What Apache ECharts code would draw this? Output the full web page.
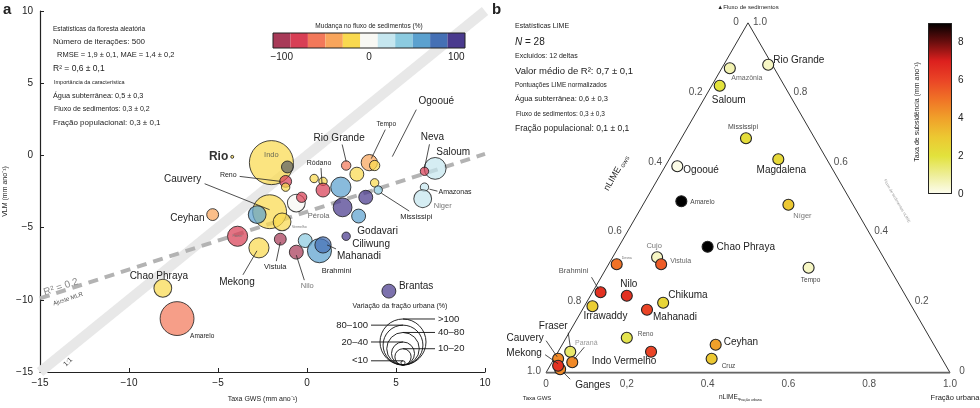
<!DOCTYPE html>
<html><head><meta charset="utf-8">
<script src="https://cdn.jsdelivr.net/npm/echarts@6.0.0/dist/echarts.min.js"></script>
<style>html,body{margin:0;padding:0;background:#fff}#c{width:980px;height:408px}</style>
</head><body><div id="c"></div>
<script>
// ================= DATA: panel a (random forest bubbles) =================
const gwsRate = [-2.0,-1.1,-1.2,-1.2,-4.2,0.4,0.9,0.9,1.9,2.2,2.8,3.5,3.8,3.8,4.0,7.2,6.6,6.6,6.5,3.3,2.0,2.9,-0.6,-0.3,-2.1,-2.8,-1.4,-5.3,-3.9,-2.7,-1.5,-0.1,-0.6,0.7,0.9,2.2,-8.1,-7.3,4.6];
const vlmRate = [-0.5,-0.8,-1.8,-2.2,-0.1,-1.6,-1.8,-2.4,-2.2,-0.7,-1.3,-0.5,-0.7,-1.9,-2.4,-0.9,-1.1,-2.2,-3.0,-2.9,-3.6,-4.2,-3.3,-2.9,-3.9,-4.1,-4.6,-4.1,-5.6,-6.4,-5.8,-5.9,-6.7,-6.6,-6.2,-5.6,-9.2,-11.3,-9.4];
const sedFluxChange = [-20,null,-80,-20,-20,-20,-20,-80,60,-60,-20,-40,-20,-20,40,20,-80,20,20,100,100,60,0,-80,-20,60,-20,-40,-80,-20,-100,40,-100,60,80,100,-20,-60,100];
const urbanChange = [110,8,8,4,0.5,4,4,11,23,5,11,15,6,4,4,27,4,4,18,11,20,11,18,6,65,18,18,8,23,23,8,11,11,33,15,4,18,65,11];
const mlrFitX = [-15, 10];
const mlrFitY = [-9.9, 0.1];
const oneToOne = [-15, 10];
const fluxTicks = [-100,-80,-60,-40,-20,0,20,40,60,80,100];
const sizeLegendLabels = ['>100','80–100','40–80','20–40','10–20','<10'];
const sizeLegendValues = [120, 90, 60, 30, 15, 1];

// ================= DATA: panel b (LIME ternary) =================
const deltaNamesB = ['Rio Grande','Amazônia','Saloum','Mississipi','Magdalena','Níger','Tempo','Chao Phraya','Ceyhan','Cruz','Ogooué','Amarelo','Cujo','Vistula','Desna','Brahmini','Nilo','Chikuma','Irrawaddy','Mahanadi','Reno','Indo Vermelho','Fraser','Paraná','Ganges','Cauvery','Mekong'];
const nlimeGws   = [0.01,0.11,0.16,0.17,0.12,0.16,0.20,0.42,0.54,0.57,0.38,0.42,0.56,0.56,0.67,0.75,0.69,0.61,0.79,0.66,0.75,0.71,0.91,0.92,0.96,0.95,0.96];
const nlimeSed   = [0.88,0.87,0.82,0.67,0.61,0.48,0.30,0.36,0.08,0.04,0.59,0.49,0.33,0.31,0.31,0.23,0.22,0.20,0.19,0.18,0.10,0.06,0.06,0.03,0.01,0.04,0.02];
const nlimeUrban = [0.11,0.02,0.02,0.16,0.27,0.36,0.50,0.22,0.38,0.39,0.03,0.09,0.11,0.13,0.02,0.02,0.09,0.19,0.02,0.16,0.15,0.23,0.03,0.05,0.03,0.01,0.02];
const subsidence = [0.5,0.7,2.0,2.2,2.4,3.0,0.5,9,4,3,0.1,9,0.5,5.5,5,6.5,6.5,2.5,2.8,6,1.8,6,1.5,4.5,4.5,4.5,6.5];
const ternTicks = [0, 0.2, 0.4, 0.6, 0.8, 1.0];
const baseTickLabels = ['0','0,2','0.4','0.6','0.8','1.0'];

// ================= STYLE / LAYOUT =================
const FONT = 'Liberation Sans, Arial, Helvetica, sans-serif';
const fluxPalette = ['#a83a58','#d83f55','#f2785a','#f8a55c','#f9d94f','#f8f8f4','#c5e6ef','#8ccbe0','#5ba1cf','#4570b5','#4a3a8e'];
const subsColors = ['#fdfdf0','#eeee98','#e2e23c','#ecc832','#f0a02a','#f07226','#ea4426','#dc201e','#6a0e0e','#000000'];
const SQ = Math.sqrt(3) / 2;
function proj(u, s) { return [u + s / 2, s * SQ]; }
function hexA(h, a) { const n = parseInt(h.slice(1), 16); return 'rgba(' + (n >> 16 & 255) + ',' + (n >> 8 & 255) + ',' + (n & 255) + ',' + a + ')'; }
function fluxColor(v) { if (v == null) return 'rgba(96,100,102,0.92)'; return hexA(fluxPalette[Math.round((v + 100) / 20)], 0.9); }
function urbanRadius(u) { return 2.1 * Math.sqrt(u); }
const minus = v => String(v).replace('-', '−');

const chart = echarts.init(document.getElementById('c'));

const bubbleData = gwsRate.map((g, i) => ({
  value: [g, vlmRate[i], sedFluxChange[i], urbanChange[i]],
  symbolSize: 2 * urbanRadius(urbanChange[i]),
  itemStyle: { color: fluxColor(sedFluxChange[i]) }
}));

const ternData = deltaNamesB.map((n, i) => {
  const p = proj(nlimeUrban[i], nlimeSed[i]);
  return { name: n, value: [p[0], p[1], subsidence[i]] };
});

const tickItems = [];
ternTicks.forEach((t, k) => {
  tickItems.push({ value: proj(t, 0), label: { formatter: baseTickLabels[k], offset: [0, 12] } });
  tickItems.push({ value: proj(0, 1 - t), label: { formatter: t === 0 ? '0' : t.toFixed(1), offset: [-12, -1] } });
  tickItems.push({ value: proj(1 - t, t), label: { formatter: t === 0 ? '0' : t.toFixed(1), offset: [12, -1] } });
});

function mainAxis(extra, margin) {
  return Object.assign({
    type: 'value', min: -15, max: 10, interval: 5,
    nameLocation: 'middle',
    nameTextStyle: { fontSize: 7, color: '#222', fontFamily: FONT },
    axisLine: { onZero: false, lineStyle: { color: '#222', width: 1.2 } },
    axisTick: { inside: true, length: 4, lineStyle: { color: '#222' } },
    splitLine: { show: false },
    axisLabel: { color: '#222', fontSize: 10, fontFamily: FONT, margin: margin, formatter: minus }
  }, extra);
}

const option = {
  animation: false,
  backgroundColor: '#fff',
  textStyle: { fontFamily: FONT },
  grid: [
    { left: 40, top: 11, width: 445, height: 362 },
    { left: 546, top: 22.8, width: 404, height: 349.9 },
    { left: 273, top: 33, width: 192, height: 15 },
    { left: 928, top: 23, width: 24, height: 171 }
  ],
  xAxis: [
    mainAxis({ gridIndex: 0, name: 'Taxa GWS (mm ano⁻¹)', nameGap: 24 }, 6),
    { gridIndex: 1, type: 'value', min: 0, max: 1, show: false },
    { gridIndex: 2, type: 'category', data: fluxTicks.map(String),
      axisLine: { show: false },
      axisTick: { inside: true, length: 4, alignWithLabel: true, interval: 0, lineStyle: { color: '#111' } },
      axisLabel: { interval: 4, fontSize: 10, color: '#222', margin: 4, fontFamily: FONT, formatter: minus } },
    { gridIndex: 3, type: 'category', data: ['s'], show: false }
  ],
  yAxis: [
    mainAxis({ gridIndex: 0, name: 'VLM (mm ano⁻¹)', nameGap: 31 }, 7),
    { gridIndex: 1, type: 'value', min: 0, max: SQ, show: false },
    { gridIndex: 2, type: 'value', min: 0, max: 1, show: false },
    { gridIndex: 3, type: 'value', min: 0, max: 9, interval: 1, position: 'right',
      axisLine: { show: false }, splitLine: { show: false },
      axisTick: { inside: true, length: 4, lineStyle: { color: '#222' } },
      axisLabel: { fontSize: 10, color: '#222', margin: 6, fontFamily: FONT,
        formatter: v => (v % 2 === 0 ? String(v) : '') } }
  ],
  visualMap: [{ type: 'continuous', show: false, seriesIndex: 6, dimension: 2, min: 0, max: 9,
    inRange: { color: subsColors } }],
  series: [
    { type: 'line', xAxisIndex: 0, yAxisIndex: 0, symbol: 'none', silent: true, z: 1,
      data: oneToOne.map(v => [v, v]), lineStyle: { color: '#e8e8e8', width: 10 } },
    { type: 'line', xAxisIndex: 0, yAxisIndex: 0, symbol: 'none', silent: true, z: 1,
      data: mlrFitX.map((x, i) => [x, mlrFitY[i]]), lineStyle: { color: '#b3b3b3', width: 4, type: [10, 7] } },
    { type: 'scatter', xAxisIndex: 0, yAxisIndex: 0, z: 3, clip: false, data: bubbleData,
      itemStyle: { borderColor: '#1a1a1a', borderWidth: 1 } },
    { type: 'line', xAxisIndex: 1, yAxisIndex: 1, symbol: 'none', silent: true,
      data: [proj(0, 0), proj(0, 1), proj(1, 0)], lineStyle: { color: '#333', width: 1 } },
    { type: 'line', xAxisIndex: 1, yAxisIndex: 1, symbol: 'none', silent: true,
      data: [proj(0, 0), proj(1, 0)], lineStyle: { color: '#666', width: 2 } },
    { type: 'scatter', xAxisIndex: 1, yAxisIndex: 1, symbolSize: 1, clip: false, silent: true,
      itemStyle: { color: 'rgba(0,0,0,0)' }, data: tickItems,
      label: { show: true, position: 'inside', fontSize: 10, color: '#222', fontFamily: FONT } },
    { type: 'scatter', xAxisIndex: 1, yAxisIndex: 1, symbolSize: 11, clip: false, z: 3, data: ternData,
      itemStyle: { borderColor: '#222', borderWidth: 1.1, opacity: 1 } },
    { type: 'bar', xAxisIndex: 2, yAxisIndex: 2, barWidth: '100%', silent: true,
      data: fluxTicks.map((v, i) => ({ value: 1, itemStyle: { color: fluxPalette[i] } })) },
    { type: 'bar', xAxisIndex: 3, yAxisIndex: 3, barWidth: '100%', silent: true,
      data: [{ value: 9, itemStyle: { borderColor: '#222', borderWidth: 1,
        color: new echarts.graphic.LinearGradient(0, 1, 0, 0,
          subsColors.map((c, i) => ({ offset: i / (subsColors.length - 1), color: c }))) } }] }
  ]
};
chart.setOption(option);

// ================= Labels & annotations =================
const labelsA = [
  { i: 0, t: 'Indo', dx: 0, dy: -8, s: 7.5, c: '#6b6b55' },
  { i: 4, t: 'Rio', dx: -4, dy: 0, a: 'right', s: 12, c: '#333', w: 'bold' },
  { i: 2, t: 'Reno', dx: -49, dy: -6, a: 'right', s: 7, l: [-46, -5, -5, 0] },
  { i: 7, t: 'Ródano', dx: -4, dy: -27, s: 7, l: [-2, -22, -1, -6] },
  { i: 9, t: 'Rio Grande', dx: -7, dy: -27, s: 10, l: [-4, -21, 0, -4] },
  { i: 11, t: 'Tempo', dx: 17, dy: -38, s: 6.5, l: [16, -33, 2, -4] },
  { i: 11, t: 'Ogooué', dx: 67, dy: -61, s: 10, l: [47, -53, 23, -6] },
  { i: 16, t: 'Neva', dx: 8, dy: -34, s: 10, l: [5, -27, 0, -3] },
  { i: 15, t: 'Saloum', dx: 18, dy: -16, s: 10 },
  { i: 17, t: 'Amazonas', dx: 14, dy: 5, a: 'left', s: 7, l: [5, 2, 13, 4] },
  { i: 18, t: 'Niger', dx: 20, dy: 7, s: 7.5, c: '#777' },
  { i: 14, t: 'Mississipi', dx: 38, dy: 27, s: 7.5, l: [31, 21, 3, 3] },
  { i: 20, t: 'Pérola', dx: -24, dy: 9, s: 7.5, c: '#666' },
  { i: 21, t: 'Godavari', dx: 19, dy: 15, s: 10 },
  { i: 35, t: 'Ciliwung', dx: 6, dy: 8, a: 'left', s: 10 },
  { i: 34, t: 'Mahanadi', dx: 14, dy: 11, a: 'left', s: 10, l: [13, 4, 4, 0] },
  { i: 33, t: 'Brahmini', dx: 17, dy: 20, s: 7.5 },
  { i: 32, t: 'Nilo', dx: 11, dy: 34, s: 7.5, c: '#777', l: [8, 28, 0, 3] },
  { i: 30, t: 'Vistula', dx: -5, dy: 28, s: 7.5, l: [-4, 22, 0, 3] },
  { i: 29, t: 'Mekong', dx: -22, dy: 34, s: 10, l: [-16, 27, -2, 3] },
  { i: 24, t: 'Cauvery', dx: -87, dy: -32, s: 10, l: [-65, -28, 0, -2] },
  { i: 27, t: 'Ceyhan', dx: -8, dy: 4, a: 'right', s: 10 },
  { i: 36, t: 'Chao Phraya', dx: -4, dy: -12, s: 10 },
  { i: 37, t: 'Amarelo', dx: 13, dy: 18, a: 'left', s: 6.5 },
  { i: 38, t: 'Brantas', dx: 10, dy: -5, a: 'left', s: 10 },
  { i: 28, t: 'Fraser', dx: 0, dy: 0, s: 3.5, c: '#777' },
  { i: 22, t: 'Vermelho', dx: 3, dy: 24, s: 3.5, c: '#777' }
];
const labelsB = [
  { n: 'Rio Grande', dx: 5, dy: -5, a: 'left', s: 10 },
  { n: 'Amazônia', dx: 17, dy: 10, s: 7, c: '#666' },
  { n: 'Saloum', dx: 9, dy: 14, s: 10 },
  { n: 'Mississipi', dx: -3, dy: -11, s: 7, c: '#444' },
  { n: 'Magdalena', dx: 3, dy: 11, s: 10 },
  { n: 'Níger', dx: 14, dy: 11, s: 7.5, c: '#777' },
  { n: 'Tempo', dx: 2, dy: 12, s: 6.5, c: '#444' },
  { n: 'Chao Phraya', dx: 9, dy: 1, a: 'left', s: 10 },
  { n: 'Ceyhan', dx: 8, dy: -2, a: 'left', s: 10 },
  { n: 'Cruz', dx: 10, dy: 7, a: 'left', s: 6.5, c: '#444' },
  { n: 'Ogooué', dx: 6, dy: 4, a: 'left', s: 10 },
  { n: 'Amarelo', dx: 9, dy: 1, a: 'left', s: 6.5, c: '#444' },
  { n: 'Cujo', dx: -3, dy: -11, s: 7.5, c: '#777' },
  { n: 'Vistula', dx: 9, dy: -3, a: 'left', s: 7, c: '#666' },
  { n: 'Desna', dx: 5, dy: -6, a: 'left', s: 3.5, c: '#777' },
  { n: 'Brahmini', dx: -27, dy: -21, s: 7.5, c: '#555', l: [-9, -15, -2, -3] },
  { n: 'Nilo', dx: 2, dy: -11, s: 10 },
  { n: 'Chikuma', dx: 5, dy: -7, a: 'left', s: 10 },
  { n: 'Irrawaddy', dx: 13, dy: 10, s: 10 },
  { n: 'Mahanadi', dx: 6, dy: 8, a: 'left', s: 10 },
  { n: 'Reno', dx: 11, dy: -4, a: 'left', s: 6.5, c: '#555' },
  { n: 'Indo Vermelho', dx: -27, dy: 10, s: 10 },
  { n: 'Fraser', dx: -17, dy: -25, s: 10, l: [-2, -19, 0, -5] },
  { n: 'Paraná', dx: 14, dy: -19, s: 7, c: '#999', l: [12, -15, 2, -3] },
  { n: 'Cauvery', dx: -33, dy: -20, s: 10, l: [-12, -18, -1, -2] },
  { n: 'Mekong', dx: -34, dy: -12, s: 10, l: [-13, -11, 0, -2] },
  { n: 'Ganges', dx: 15, dy: 16, a: 'left', s: 10, l: [10, 10, 3, 3] }
];

function txt(text, x, y, size, opts) {
  opts = opts || {};
  return { type: 'text', x: x, y: y, z: 100, rotation: opts.rot || 0,
    style: { text: text, fontSize: size, fontFamily: FONT, fill: opts.c || '#222',
      align: opts.a || 'left', verticalAlign: 'middle', fontWeight: opts.w || 'normal',
      fontStyle: opts.st || 'normal', rich: opts.rich } };
}
const G = [];
function addLabel(px, L) {
  G.push(txt(L.t, px[0] + L.dx, px[1] + L.dy, L.s, { a: L.a || 'center', c: L.c, w: L.w }));
  if (L.l) G.push({ type: 'line', z: 99, shape: { x1: px[0] + L.l[0], y1: px[1] + L.l[1], x2: px[0] + L.l[2], y2: px[1] + L.l[3] },
    style: { stroke: '#222', lineWidth: 0.8 } });
}
labelsA.forEach(L => addLabel(chart.convertToPixel({ xAxisIndex: 0, yAxisIndex: 0 }, [gwsRate[L.i], vlmRate[L.i]]), L));
labelsB.forEach(L => {
  const k = deltaNamesB.indexOf(L.n);
  addLabel(chart.convertToPixel({ xAxisIndex: 1, yAxisIndex: 1 }, proj(nlimeUrban[k], nlimeSed[k])), Object.assign({ t: L.n }, L));
});

G.push(txt('a', 3, 10, 15, { w: 'bold' }));
G.push(txt('b', 492, 10, 15, { w: 'bold' }));

[['Estatísticas da floresta aleatória', 53, 29, 6.5],
 ['Número de iterações: 500', 53, 42, 8],
 ['RMSE = 1,9 ± 0,1, MAE = 1,4 ± 0,2', 57, 55, 7.5],
 ['R² = 0,6 ± 0,1', 53, 69, 8.5],
 ['Importância da característica', 54, 82, 5.5],
 ['Água subterrânea: 0,5 ± 0,3', 53, 96, 7.3],
 ['Fluxo de sedimentos: 0,3 ± 0,2', 54, 109, 7],
 ['Fração populacional: 0,3 ± 0,1', 53, 123, 8]].forEach(r => G.push(txt(r[0], r[1], r[2], r[3])));
[['Estatísticas LIME', 515, 26, 7],
 ['Excluídos: 12 deltas', 515, 56, 7],
 ['Valor médio de R²: 0,7 ± 0,1', 515, 71, 9.5],
 ['Pontuações LIME normalizados', 515, 85, 6.5],
 ['Água subterrânea: 0,6 ± 0,3', 515, 99, 7.5],
 ['Fluxo de sedimentos: 0,3 ± 0,3', 516, 114, 6.5],
 ['Fração populacional: 0,1 ± 0,1', 515, 129, 8.5]].forEach(r => G.push(txt(r[0], r[1], r[2], r[3])));
G.push(txt('{i|N} = 28', 515, 42, 10, { rich: { i: { fontStyle: 'italic', fontSize: 10, fontFamily: FONT, fill: '#222' } } }));

G.push(txt('Mudança no fluxo de sedimentos (%)', 369, 26, 6.5, { a: 'center' }));
G.push({ type: 'rect', z: 98, shape: { x: 273, y: 33, width: 192, height: 15 }, style: { fill: 'none', stroke: '#222', lineWidth: 1 } });
G.push(txt('Taxa de subsidência (mm ano⁻¹)', 917, 112, 7, { a: 'center', rot: Math.PI / 2 }));

G.push(txt('R² = 0.2', 61, 287, 10, { a: 'center', c: '#888', rot: 0.32 }));
G.push(txt('Ajuste MLR', 68, 299, 6, { a: 'center', c: '#555', rot: 0.32 }));
G.push(txt('1:1', 68, 362, 7, { a: 'center', c: '#333', rot: Math.PI / 4 }));
G.push(txt('Variação da fração urbana (%)', 400, 306, 7, { a: 'center' }));

const baseX = 403, baseY = 365;
sizeLegendValues.forEach((v, k) => {
  const r = urbanRadius(v);
  G.push({ type: 'circle', z: 97, shape: { cx: baseX, cy: baseY - r, r: r }, style: { fill: 'none', stroke: '#111', lineWidth: 0.9 } });
  const yTop = baseY - 2 * r, right = k % 2 === 0;
  G.push({ type: 'line', z: 97, shape: { x1: right ? baseX : 371, y1: yTop, x2: right ? 435 : baseX, y2: yTop }, style: { stroke: '#111', lineWidth: 0.9 } });
  G.push(txt(sizeLegendLabels[k], right ? 438 : 368, yTop, 9.5, { a: right ? 'left' : 'right' }));
});

G.push(txt('▲Fluxo de sedimentos', 748, 7, 6, { a: 'center' }));
G.push({ type: 'group', x: 613, y: 178, rotation: Math.PI / 3, z: 100, children: [
  { type: 'text', x: -14, y: 0, style: { text: 'nLIME', fontSize: 9, fontFamily: FONT, fill: '#222', align: 'left', verticalAlign: 'middle' } },
  { type: 'text', x: 14, y: 3, style: { text: 'GWS', fontSize: 5, fontFamily: FONT, fill: '#222', align: 'left', verticalAlign: 'middle' } }
] });
G.push(txt('Fluxo de sedimentos nLIME', 897, 201, 4, { a: 'center', c: '#999', rot: -Math.PI / 3 }));
G.push(txt('Taxa GWS', 537, 398, 6, { a: 'center' }));
G.push(txt('nLIME,', 719, 397, 6.5, {}));
G.push(txt('Fração urbana', 739, 400, 3.5, {}));
G.push(txt('Fração urbana', 955, 398, 7.5, { a: 'center' }));

chart.setOption({ graphic: G });
</script></body></html>
